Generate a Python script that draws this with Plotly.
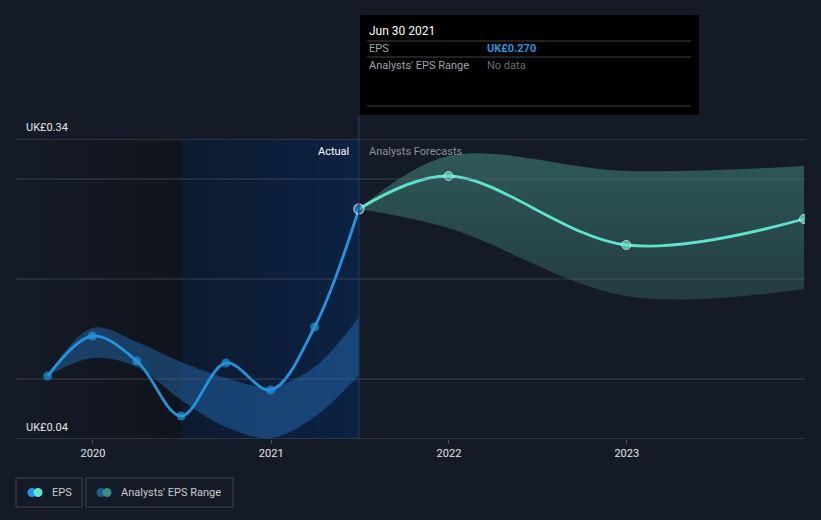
import plotly.graph_objects as go

# ---------------- data ----------------
actual_dates = ["2019-09-30", "2019-12-31", "2020-03-31", "2020-06-30",
                "2020-09-30", "2020-12-31", "2021-03-31", "2021-06-30"]
actual_eps = [0.103, 0.143, 0.118, 0.063, 0.116, 0.089, 0.152, 0.270]

hist_range_upper = [0.103, 0.151, 0.137, 0.117, 0.101, 0.092, 0.112, 0.162]
hist_range_lower = [0.103, 0.121, 0.112, 0.079, 0.052, 0.041, 0.062, 0.104]

fc_dates = ["2021-06-30", "2021-12-31", "2022-12-31", "2023-12-31"]
fc_eps = [0.270, 0.303, 0.234, 0.260]
fc_upper = [0.270, 0.323, 0.308, 0.313]
fc_lower = [0.270, 0.251, 0.183, 0.190]

y_ticks = [0.10, 0.20, 0.30, 0.34]
y_labels = {0.34: "UK£0.34", 0.04: "UK£0.04"}
x_ticks = ["2020-01-01", "2021-01-01", "2022-01-01", "2023-01-01"]
x_tick_text = ["2020", "2021", "2022", "2023"]

x_range = ["2019-07-27", "2024-01-02"]
y_range = [0.04, 0.34]
past_start = "2020-06-30"
now_date = "2021-06-30"

BG = "#151b26"
EPS_BLUE = "#2394df"
EPS_TEAL = "#5fe3cc"
FONT = "Roboto, Noto Sans, sans-serif"

W, H = 821, 520
L, R, T, B = 16, 16, 139, 81
PW, PH = W - L - R, H - T - B


def px(xp):
    return (xp - L) / PW


def py(yp):
    return (H - B - yp) / PH


fig = go.Figure()

# shaded background regions
fig.add_trace(go.Scatter(
    x=[x_range[0], past_start, past_start, x_range[0], x_range[0]],
    y=[y_range[0], y_range[0], y_range[1], y_range[1], y_range[0]],
    fill="toself", mode="none", hoverinfo="skip", showlegend=False,
    fillgradient=dict(type="horizontal",
                      colorscale=[[0, "rgba(21,27,38,1)"], [1, "rgba(15,20,28,1)"]]),
))
fig.add_trace(go.Scatter(
    x=[past_start, now_date, now_date, past_start, past_start],
    y=[y_range[0], y_range[0], y_range[1], y_range[1], y_range[0]],
    fill="toself", mode="none", hoverinfo="skip", showlegend=False,
    fillgradient=dict(type="horizontal",
                      colorscale=[[0, "rgba(13,26,46,1)"], [1, "rgba(12,34,68,1)"]]),
))

# historical analyst range band
fig.add_trace(go.Scatter(
    x=actual_dates, y=hist_range_upper, mode="lines",
    line=dict(width=0, shape="spline", smoothing=1.0), hoverinfo="skip", showlegend=False))
fig.add_trace(go.Scatter(
    x=actual_dates, y=hist_range_lower, mode="lines", fill="tonexty",
    fillcolor="rgba(40,125,205,0.40)",
    line=dict(width=0, shape="spline", smoothing=1.0), hoverinfo="skip", showlegend=False))

# forecast range band
fig.add_trace(go.Scatter(
    x=fc_dates, y=fc_upper, mode="lines",
    line=dict(width=0, shape="spline", smoothing=1.0), hoverinfo="skip", showlegend=False))
fig.add_trace(go.Scatter(
    x=fc_dates, y=fc_lower, mode="lines", fill="tonexty",
    fillgradient=dict(type="vertical", start=0.18, stop=0.325,
                      colorscale=[[0, "rgba(35,60,65,1)"], [1, "rgba(47,88,88,1)"]]),
    line=dict(width=0, shape="spline", smoothing=1.0), hoverinfo="skip", showlegend=False))

# forecast line
fig.add_trace(go.Scatter(
    x=fc_dates, y=fc_eps, mode="lines+markers",
    line=dict(color=EPS_TEAL, width=2.8, shape="spline", smoothing=1.0),
    marker=dict(size=[0, 9, 9, 9], color=EPS_TEAL),
    hoverinfo="skip", showlegend=False))

# actual EPS line
n = len(actual_dates)
fig.add_trace(go.Scatter(
    x=actual_dates, y=actual_eps, mode="lines+markers",
    line=dict(color=EPS_BLUE, width=2.8, shape="spline", smoothing=1.0),
    marker=dict(size=[9] * (n - 1) + [10], color=EPS_BLUE,
                line=dict(color=["rgba(0,0,0,0)"] * (n - 1) + ["#e8eef5"], width=1.5)),
    hoverinfo="skip", showlegend=False))

shapes = []
# gridlines
for v in y_ticks:
    shapes.append(dict(type="line", xref="paper", yref="y", x0=0, x1=1, y0=v, y1=v,
                       line=dict(color="rgba(90,98,110,0.55)" if v != 0.34 else "#4a505a",
                                 width=1),
                       layer="above"))
# bottom axis
shapes.append(dict(type="line", xref="paper", yref="y", x0=0, x1=1, y0=0.04, y1=0.04,
                   line=dict(color="#4a505a", width=1.2), layer="above"))
# now line
shapes.append(dict(type="line", xref="x", yref="paper", x0=now_date, x1=now_date,
                   y0=0, y1=py(115), line=dict(color="#1c3a66", width=1.2), layer="above"))
# tooltip box
shapes.append(dict(type="rect", xref="paper", yref="paper", x0=px(360), x1=px(699),
                   y0=py(115), y1=py(15), fillcolor="#000000", line=dict(width=0), layer="above"))
for yy in [41, 57, 106]:
    shapes.append(dict(type="line", xref="paper", yref="paper", x0=px(367), x1=px(691),
                       y0=py(yy), y1=py(yy), line=dict(color="#444444", width=1), layer="above"))

# legend boxes
for x0, x1 in [(16, 82), (86, 233)]:
    shapes.append(dict(type="rect", xref="paper", yref="paper", x0=px(x0), x1=px(x1),
                       y0=py(507), y1=py(478), fillcolor="rgba(0,0,0,0)",
                       line=dict(color="#3d434e", width=1)))
# legend dots
r = 4.5
for cx, col in [(32, EPS_BLUE), (38, EPS_TEAL), (101, "#1f5f8f"), (107, "#3d8a85")]:
    shapes.append(dict(type="circle", xref="paper", yref="paper",
                       x0=px(cx - r), x1=px(cx + r), y0=py(492.5 + r), y1=py(492.5 - r),
                       fillcolor=col, line=dict(width=0)))

annotations = []
for v, txt in y_labels.items():
    annotations.append(dict(xref="paper", yref="y", x=px(24), y=v, yshift=12,
                            text=txt, showarrow=False, xanchor="left", yanchor="middle",
                            font=dict(family=FONT, size=11, color="#e2e4e8")))
annotations.append(dict(xref="x", yref="paper", x=now_date, y=py(151), xshift=-8,
                        text="Actual", showarrow=False, xanchor="right", yanchor="middle",
                        font=dict(family=FONT, size=11, color="#ffffff")))
annotations.append(dict(xref="x", yref="paper", x=now_date, y=py(151), xshift=8,
                        text="Analysts Forecasts", showarrow=False, xanchor="left",
                        yanchor="middle", font=dict(family=FONT, size=11, color="#8b9099")))
# tooltip text
annotations += [
    dict(xref="paper", yref="paper", x=px(367), y=py(31), text="Jun 30 2021",
         showarrow=False, xanchor="left", yanchor="middle",
         font=dict(family=FONT, size=12, color="#ffffff")),
    dict(xref="paper", yref="paper", x=px(367), y=py(48.5), text="EPS",
         showarrow=False, xanchor="left", yanchor="middle",
         font=dict(family=FONT, size=11, color="#a0a4aa")),
    dict(xref="paper", yref="paper", x=px(485), y=py(48.5), text="<b>UK£0.270</b>",
         showarrow=False, xanchor="left", yanchor="middle",
         font=dict(family=FONT, size=11, color=EPS_BLUE)),
    dict(xref="paper", yref="paper", x=px(367), y=py(65), text="Analysts' EPS Range",
         showarrow=False, xanchor="left", yanchor="middle",
         font=dict(family=FONT, size=11, color="#a0a4aa")),
    dict(xref="paper", yref="paper", x=px(485), y=py(65), text="No data",
         showarrow=False, xanchor="left", yanchor="middle",
         font=dict(family=FONT, size=11, color="#6a6e74")),
]
# legend text
annotations += [
    dict(xref="paper", yref="paper", x=px(50), y=py(492.5), text="EPS",
         showarrow=False, xanchor="left", yanchor="middle",
         font=dict(family=FONT, size=11, color="#c8cbd0")),
    dict(xref="paper", yref="paper", x=px(119), y=py(492.5), text="Analysts' EPS Range",
         showarrow=False, xanchor="left", yanchor="middle",
         font=dict(family=FONT, size=11, color="#c8cbd0")),
]

fig.update_layout(
    width=W, height=H,
    margin=dict(l=L, r=R, t=T, b=B),
    paper_bgcolor=BG, plot_bgcolor=BG,
    showlegend=False,
    shapes=shapes, annotations=annotations,
    xaxis=dict(type="date", range=x_range, tickvals=x_ticks, ticktext=x_tick_text,
               showgrid=False, zeroline=False, showline=False,
               ticks="outside", ticklen=4, tickcolor="#4a505a",
               tickfont=dict(family=FONT, size=11, color="#e2e4e8"), fixedrange=True),
    yaxis=dict(range=y_range, showgrid=False, zeroline=False, showticklabels=False,
               showline=False, fixedrange=True),
)

fig.write_html("out.html")
